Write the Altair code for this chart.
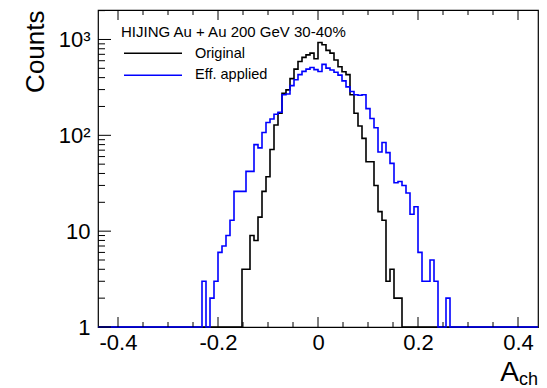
import altair as alt
import pandas as pd

# ---------------- data ----------------
BIN_WIDTH = 0.008
X_MIN, X_MAX = -0.44, 0.44
Y_MIN, Y_MAX = 1, 2030

# counts per bin, bin k covers [k*BIN_WIDTH, (k+1)*BIN_WIDTH)
orig_first_bin = -19
orig_counts = [4, 4, 9, 8, 14, 26, 37, 71, 128, 170, 275, 298, 390, 490, 590,
               650, 690, 720, 630, 930, 880, 770, 720, 610, 520, 460, 430, 265,
               170, 125, 93, 53, 53, 30, 16, 13, 3, 4, 2, 2]
eff_first_bin = -29
eff_counts = [3, 0, 2, 3, 6, 7, 9, 13, 26, 26, 26, 42, 42, 80, 74, 107, 136, 148,
              166, 174, 265, 270, 330, 380, 430, 465, 490, 510, 485, 463, 550,
              502, 480, 455, 425, 370, 320, 287, 265, 262, 265, 190, 150, 120, 67,
              84, 66, 51, 32, 33, 30, 25, 15, 18, 6, 3, 3, 5, 3, 0, 0, 2]

series_names = ["Original", "Eff. applied"]
series_colors = ["#000000", "#0000ff"]
legend_title = ["HIJING Au + Au 200 GeV 30-40%"]

x_tick_labels = [-0.4, -0.2, 0.0, 0.2, 0.4]
x_minor_ticks = [round(-0.40 + 0.05 * i, 2) for i in range(17)]
y_major = [1, 10, 100, 1000]
y_minor = [m * 10 ** d for d in range(0, 4) for m in range(2, 10) if m * 10 ** d < Y_MAX]

FONT = "Liberation Sans"
W, H = 440, 317


def step_frame(first_bin, counts):
    kmin = round(X_MIN / BIN_WIDTH)
    kmax = round(X_MAX / BIN_WIDTH)
    rows = []
    for k in range(kmin, kmax):
        i = k - first_bin
        c = counts[i] if 0 <= i < len(counts) else 0
        rows.append({"x": k * BIN_WIDTH, "c": max(c, 1)})
    rows.append({"x": kmax * BIN_WIDTH, "c": rows[-1]["c"]})
    return pd.DataFrame(rows)


xs = alt.Scale(domain=[X_MIN, X_MAX], nice=False, zero=False)
ys = alt.Scale(type="log", domain=[Y_MIN, Y_MAX], nice=False)

x_axis = alt.Axis(values=x_tick_labels, ticks=False, domain=False, grid=False,
                  labelFont=FONT, labelFontSize=22, labelColor="black",
                  labelPadding=5,
                  labelExpr="datum.value == 0 ? '0' : (datum.value < 0 ? '-' + format(-datum.value, '.1f') : format(datum.value, '.1f'))",
                  title=None)
y_axis = alt.Axis(values=y_major, ticks=False, domain=False, grid=False,
                  labelFont=FONT, labelFontSize=22, labelColor="black",
                  labelPadding=8,
                  labelExpr="datum.value == 1 ? '1' : datum.value == 10 ? '10' : datum.value == 100 ? '10²' : '10³'",
                  title="Counts", titleFont=FONT, titleFontSize=26,
                  titleFontWeight="normal", titleColor="black",
                  titleAngle=270, titleAlign="right", titleBaseline="alphabetic",
                  titleX=-55, titleY=0)

orig_df = step_frame(orig_first_bin, orig_counts)
eff_df = step_frame(eff_first_bin, eff_counts)

line_orig = alt.Chart(orig_df).mark_line(
    interpolate="step-after", color=series_colors[0], strokeWidth=1.6
).encode(x=alt.X("x:Q", scale=xs, axis=x_axis), y=alt.Y("c:Q", scale=ys, axis=y_axis))

line_eff = alt.Chart(eff_df).mark_line(
    interpolate="step-after", color=series_colors[1], strokeWidth=1.6
).encode(x=alt.X("x:Q", scale=xs), y=alt.Y("c:Q", scale=ys))

# inward ticks
xt_df = pd.DataFrame({"v": x_minor_ticks,
                      "major": [abs(round(v / 0.2) * 0.2 - v) < 1e-9 for v in x_minor_ticks]})
xt_major = xt_df[xt_df.major]
xt_minor = xt_df[~xt_df.major]

def xticks(df, length):
    bottom = alt.Chart(df).mark_rule(color="black", strokeWidth=1).encode(
        x=alt.X("v:Q", scale=xs), y=alt.value(H), y2=alt.value(H - length))
    top = alt.Chart(df).mark_rule(color="black", strokeWidth=1).encode(
        x=alt.X("v:Q", scale=xs), y=alt.value(0), y2=alt.value(length))
    return [bottom, top]

def yticks(vals, length):
    return alt.Chart(pd.DataFrame({"v": vals})).mark_rule(color="black", strokeWidth=1).encode(
        y=alt.Y("v:Q", scale=ys), x=alt.value(0), x2=alt.value(length))

tick_layers = xticks(xt_major, 10) + xticks(xt_minor, 5) + [yticks(y_major, 13), yticks(y_minor, 7)]

# legend
leg_title = alt.Chart(pd.DataFrame({"t": legend_title})).mark_text(
    font=FONT, fontSize=15, align="left", baseline="alphabetic", color="black"
).encode(text="t:N", x=alt.value(23), y=alt.value(26.7))

leg_df = pd.DataFrame({"name": series_names, "color": series_colors,
                       "ly": [43.3, 65.3], "ty": [48.3, 69.3]})
leg_lines = alt.Chart(leg_df).mark_rule(strokeWidth=1.6).encode(
    x=alt.value(26), x2=alt.value(84), y=alt.Y("ly:Q", scale=None),
    color=alt.Color("color:N", scale=None))
leg_text = alt.Chart(leg_df).mark_text(
    font=FONT, fontSize=14.5, align="left", baseline="alphabetic", color="black"
).encode(text="name:N", x=alt.value(97), y=alt.Y("ty:Q", scale=None))

# x axis title A_ch
xt_title = alt.Chart(pd.DataFrame({"t": ["A"]})).mark_text(
    font=FONT, fontSize=28, align="right", baseline="alphabetic", color="black"
).encode(text="t:N", x=alt.value(W - 19), y=alt.value(H + 54))
xt_sub = alt.Chart(pd.DataFrame({"t": ["ch"]})).mark_text(
    font=FONT, fontSize=18, align="right", baseline="alphabetic", color="black"
).encode(text="t:N", x=alt.value(W), y=alt.value(H + 58))

chart = alt.layer(
    line_orig, line_eff, *tick_layers, leg_title, leg_lines, leg_text, xt_title, xt_sub
).properties(
    width=W, height=H,
    autosize=alt.AutoSizeParams(type="none"),
    padding={"left": 98, "top": 10, "right": 9, "bottom": 61},
    background="white",
).configure_view(stroke="black", strokeWidth=1.2)

chart.save("out.html", embed_options={"renderer": "svg", "actions": False})
